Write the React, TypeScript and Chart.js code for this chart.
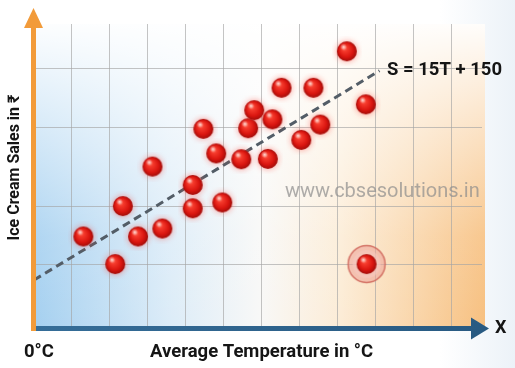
import React, { useEffect, useRef } from "react";
import { Chart, registerables } from "chart.js";

Chart.register(...registerables);

// Average temperature (°C) and ice cream sales (₹)
const temperatures = [6.5, 10.7, 11.7, 13.7, 15.6, 16.9, 20.9, 20.9, 22.3, 24.0, 24.8, 27.3, 28.2, 29.0, 30.8, 31.4, 32.6, 35.2, 36.8, 37.7, 41.2, 43.7];
const sales = [292, 202, 391, 292, 520, 318, 460, 384, 643, 563, 403, 544, 645, 704, 545, 674, 777, 607, 777, 657, 896, 723];
const outlierTemperature = [43.8];
const outlierSales = [202];
// Regression line S = 15T + 150
const lineTemperature = [0, 45.5];
const lineSales = [150, 832.5];
// Grid positions
const xGridValues = [5, 10, 15, 20, 25, 30, 35, 40, 45, 50, 55];
const yGridValues = [200, 390, 647, 841];

const xLabel = "Average Temperature in °C";
const yLabel = "Ice Cream Sales in ₹";
const originLabel = "0°C";
const xAxisName = "X";
const equationLabel = "S = 15T + 150";
const watermark = "www.cbsesolutions.in";

function drawBall(ctx: CanvasRenderingContext2D, cx: number, cy: number, r: number, glow: boolean) {
  ctx.save();
  if (glow) {
    ctx.shadowColor = "rgba(255,70,60,0.55)";
    ctx.shadowBlur = 6;
  }
  const g = ctx.createRadialGradient(cx - 3, cy - 4, 0.5, cx, cy, r);
  g.addColorStop(0, "#ff8a78");
  g.addColorStop(0.25, "#f53a2c");
  g.addColorStop(0.7, "#d9150f");
  g.addColorStop(1, "#a00d0a");
  ctx.fillStyle = g;
  ctx.beginPath();
  ctx.arc(cx, cy, r, 0, Math.PI * 2);
  ctx.fill();
  ctx.restore();
  ctx.save();
  const h = ctx.createRadialGradient(cx - 3.5, cy - 4.5, 0, cx - 3.5, cy - 4.5, 3.5);
  h.addColorStop(0, "rgba(255,255,255,0.65)");
  h.addColorStop(1, "rgba(255,255,255,0)");
  ctx.fillStyle = h;
  ctx.beginPath();
  ctx.arc(cx - 3.5, cy - 4.5, 3.5, 0, Math.PI * 2);
  ctx.fill();
  ctx.restore();
}

function makeBall(): HTMLCanvasElement {
  const c = document.createElement("canvas");
  c.width = 30;
  c.height = 30;
  const ctx = c.getContext("2d")!;
  drawBall(ctx, 15, 15, 10, true);
  return c;
}

function makeOutlier(): HTMLCanvasElement {
  const c = document.createElement("canvas");
  c.width = 44;
  c.height = 44;
  const ctx = c.getContext("2d")!;
  ctx.beginPath();
  ctx.arc(22, 22, 18.5, 0, Math.PI * 2);
  ctx.fillStyle = "rgba(236,160,150,0.55)";
  ctx.fill();
  ctx.lineWidth = 1.5;
  ctx.strokeStyle = "rgba(205,95,85,0.85)";
  ctx.stroke();
  ctx.beginPath();
  ctx.arc(22, 22, 14, 0, Math.PI * 2);
  ctx.fillStyle = "rgba(245,200,192,0.6)";
  ctx.fill();
  drawBall(ctx, 22, 22, 10, false);
  return c;
}

const decorPlugin = {
  id: "decor",
  beforeDraw(chart: any) {
    const { ctx, chartArea } = chart;
    const { left, top, right, bottom } = chartArea;
    ctx.save();
    ctx.fillStyle = "#ffffff";
    ctx.fillRect(0, 0, chart.width, chart.height);
    const side = ctx.createLinearGradient(440, 0, 515, 0);
    side.addColorStop(0, "rgba(236,242,248,0)");
    side.addColorStop(1, "rgba(236,242,248,1)");
    ctx.fillStyle = side;
    ctx.fillRect(440, 0, 75, chart.height);

    const l = left, r = right + 3, t = top, b = bottom + 1;
    const hg = ctx.createLinearGradient(l, 0, r, 0);
    hg.addColorStop(0, "rgb(165,208,240)");
    hg.addColorStop(0.3, "rgb(220,236,248)");
    hg.addColorStop(0.5, "rgb(248,248,247)");
    hg.addColorStop(0.68, "rgb(252,236,214)");
    hg.addColorStop(1, "rgb(247,192,128)");
    ctx.fillStyle = hg;
    ctx.fillRect(l, t, r - l, b - t);
    const vg = ctx.createLinearGradient(0, t, 0, b);
    vg.addColorStop(0, "rgba(255,255,255,0.97)");
    vg.addColorStop(0.3, "rgba(255,255,255,0.6)");
    vg.addColorStop(0.7, "rgba(255,255,255,0.12)");
    vg.addColorStop(1, "rgba(255,255,255,0)");
    ctx.fillStyle = vg;
    ctx.fillRect(l, t, r - l, b - t);
    ctx.restore();
  },
  afterDatasetsDraw(chart: any) {
    const { ctx, chartArea } = chart;
    const { left, right, bottom } = chartArea;
    ctx.save();
    // watermark
    ctx.font = "20px Roboto, 'Noto Sans', sans-serif";
    ctx.fillStyle = "rgba(140,140,140,0.7)";
    ctx.textBaseline = "middle";
    ctx.textAlign = "left";
    ctx.fillText(watermark, 285, 192);

    // orange y axis arrow
    const ax = left - 0.5;
    ctx.fillStyle = "#f29b3a";
    ctx.fillRect(ax - 2.5, 27, 5, bottom + 5 - 27);
    ctx.beginPath();
    ctx.moveTo(ax - 9.5, 28);
    ctx.lineTo(ax, 8);
    ctx.lineTo(ax + 9.5, 28);
    ctx.closePath();
    ctx.fill();

    // blue x axis arrow
    const ay = bottom + 2.5;
    const bg = ctx.createLinearGradient(left, 0, right, 0);
    bg.addColorStop(0, "#356d98");
    bg.addColorStop(1, "#285a82");
    ctx.fillStyle = bg;
    ctx.fillRect(ax + 2.5, ay - 2.5, 472 - ax - 2.5, 5);
    ctx.beginPath();
    ctx.moveTo(471, ay - 11);
    ctx.lineTo(489, ay);
    ctx.lineTo(471, ay + 11);
    ctx.closePath();
    ctx.fill();

    // texts
    ctx.fillStyle = "#151515";
    ctx.font = "bold 18.5px Roboto, 'Noto Sans', sans-serif";
    ctx.textBaseline = "alphabetic";
    ctx.fillText(originLabel, 24, 357);
    ctx.fillText(xLabel, 150, 357);
    ctx.textBaseline = "middle";
    ctx.fillText(equationLabel, 387, 70);
    ctx.font = "bold 18px Roboto, 'Noto Sans', sans-serif";
    ctx.fillText(xAxisName, 495, 328);

    ctx.save();
    ctx.translate(15, 167.5);
    ctx.rotate(-Math.PI / 2);
    ctx.textAlign = "center";
    ctx.font = "bold 16px Roboto, 'Noto Sans', sans-serif";
    ctx.fillText(yLabel, 0, 0);
    ctx.restore();
    ctx.restore();
  },
};

export default function App() {
  const ref = useRef<HTMLCanvasElement | null>(null);
  useEffect(() => {
    if (!ref.current) return;
    const ball = makeBall();
    const outlier = makeOutlier();
    const chart = new Chart(ref.current, {
      type: "scatter",
      data: {
        datasets: [
          {
            label: "Sales",
            data: temperatures.map((t, i) => ({ x: t, y: sales[i] })),
            pointStyle: ball as any,
            pointRadius: 10,
            pointHoverRadius: 10,
            order: 1,
          },
          {
            label: "Outlier",
            data: outlierTemperature.map((t, i) => ({ x: t, y: outlierSales[i] })),
            pointStyle: outlier as any,
            pointRadius: 10,
            pointHoverRadius: 10,
            order: 1,
          },
          {
            label: "Trend",
            data: lineTemperature.map((t, i) => ({ x: t, y: lineSales[i] })),
            showLine: true,
            borderColor: "#535d67",
            borderWidth: 3,
            borderDash: [8, 5],
            pointRadius: 0,
            order: 2,
          },
        ],
      },
      options: {
        responsive: false,
        animation: false,
        events: [],
        layout: { padding: { left: 34, right: 33, top: 24, bottom: 42 } },
        plugins: { legend: { display: false }, tooltip: { enabled: false }, title: { display: false } },
        scales: {
          x: {
            type: "linear",
            min: 0,
            max: 59,
            afterBuildTicks: (s: any) => {
              s.ticks = xGridValues.map((v) => ({ value: v }));
            },
            ticks: { display: false },
            border: { display: false },
            grid: { color: "rgba(165,165,165,0.65)", lineWidth: 1, drawTicks: false },
          },
          y: {
            type: "linear",
            min: 0,
            max: 985,
            afterBuildTicks: (s: any) => {
              s.ticks = yGridValues.map((v) => ({ value: v }));
            },
            ticks: { display: false },
            border: { display: false },
            grid: { color: "rgba(165,165,165,0.65)", lineWidth: 1, drawTicks: false },
          },
        },
      },
      plugins: [decorPlugin],
    });
    return () => chart.destroy();
  }, []);
  return (
    <div style={{ position: "absolute", left: 0, top: 0, width: 515, height: 368 }}>
      <canvas ref={ref} width={515} height={368} style={{ width: 515, height: 368, display: "block" }} />
    </div>
  );
}
